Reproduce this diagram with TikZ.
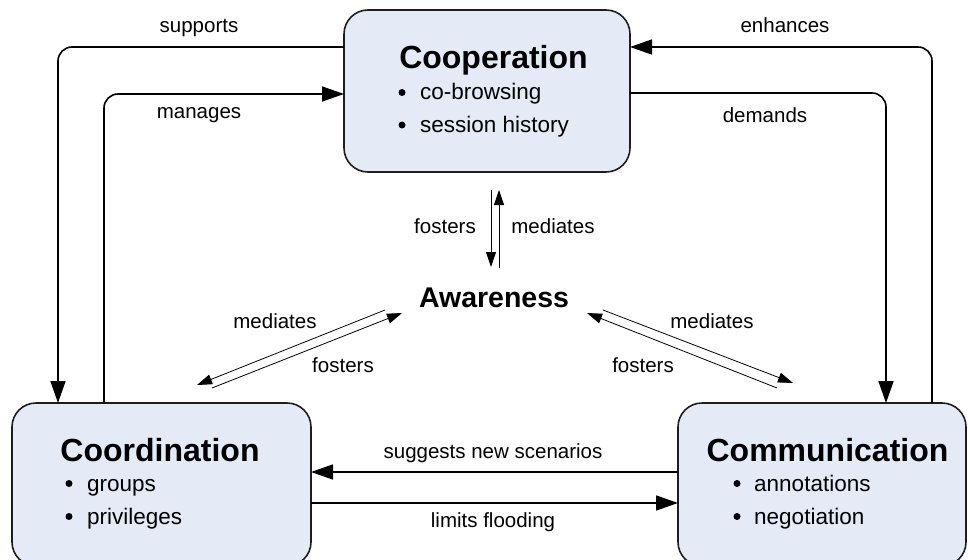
\documentclass[tikz,border=0pt]{standalone}
\usepackage{fontspec}
\setmainfont{Liberation Sans}
\usetikzlibrary{arrows.meta}
\definecolor{boxfill}{RGB}{229,235,246}
\definecolor{boxline}{RGB}{30,30,30}
\begin{document}
\begin{tikzpicture}[x=1pt,y=-1pt,
  area/.style={draw=boxline, line width=1.6pt, fill=boxfill, rounded corners=24pt,
    inner sep=0pt, outer sep=0pt},
  title/.style={font=\fontsize{32}{36}\selectfont\bfseries, anchor=base, inner sep=0pt},
  hub/.style={font=\fontsize{28.5}{32}\selectfont\bfseries, inner sep=0pt},
  item/.style={font=\fontsize{22.5}{26}\selectfont, anchor=base west, inner sep=0pt},
  dot/.style={circle, fill=black, inner sep=0pt, minimum size=7pt},
  lbl/.style={font=\fontsize{20.5}{24}\selectfont, anchor=base, inner sep=0pt},
  conn/.style={line width=1.6pt, rounded corners=14pt, -{Triangle[length=22pt,width=15pt]}},
  thin/.style={line width=0.8pt, -{Triangle[length=15pt,width=10pt]}}]
\useasboundingbox (0,0) rectangle (968,559);
\begin{scope}
\clip (0,0) rectangle (968,559);

% the three activity areas
\node[area, minimum width=286pt, minimum height=162pt] (coop) at (487,91) {};
\node[area, minimum width=299pt, minimum height=163pt] (coord) at (161.5,484.5) {};
\node[area, minimum width=288pt, minimum height=163pt] (comm) at (822,484.5) {};

% Cooperation
\node[title] (coopt) at (493.5,69) {Cooperation};
\node[dot] (coopd1) at (402,92.5) {};
\node[item] (coopi1) at (420,100) {co-browsing};
\node[dot] (coopd2) at (402,125) {};
\node[item] (coopi2) at (420,132.5) {session history};

% Coordination
\node[title] (coordt) at (160,461) {Coordination};
\node[dot] (coordd1) at (69,483.5) {};
\node[item] (coordi1) at (87,491) {groups};
\node[dot] (coordd2) at (69,516.5) {};
\node[item] (coordi2) at (87,524) {privileges};

% Communication
\node[title] (commt) at (827.5,461) {Communication};
\node[dot] (commd1) at (737,483.5) {};
\node[item] (commi1) at (754,491) {annotations};
\node[dot] (commd2) at (737,516.5) {};
\node[item] (commi2) at (754,524) {negotiation};

% Awareness in the middle
\node[hub] (aware) at (494,298) {Awareness};

% connectors between the areas
\draw[conn] (coop.west |- 0,47) -| (coord.north -| 58,0);
\draw[conn] (coord.north -| 104,0) |- (coop.west |- 0,94);
\draw[conn] (comm.north -| 932,0) |- (coop.east |- 0,47);
\draw[conn] (coop.east |- 0,93) -| (comm.north -| 886,0);
\draw[conn] (comm.west |- 0,472) -- (coord.east |- 0,472);
\draw[conn] (coord.east |- 0,503) -- (comm.west |- 0,503);

\node[lbl] (lsup) at (199,33) {supports};
\node[lbl] (lman) at (199,118) {manages};
\node[lbl] (lenh) at (785,33) {enhances};
\node[lbl] (ldem) at (765,122) {demands};
\node[lbl] (lsug) at (493,458) {suggests new scenarios};
\node[lbl] (llim) at (493,527) {limits flooding};

% links to and from Awareness
\coordinate (vf1) at (491,190);
\coordinate (vf2) at (491,267);
\coordinate (vm1) at (499,268);
\coordinate (vm2) at (499,190);
\draw[thin] (vf1) -- (vf2);
\draw[thin] (vm1) -- (vm2);
\node[lbl] (lvf) at (445,233) {fosters};
\node[lbl] (lvm) at (553,233) {mediates};

\coordinate (lm1) at (385,310);
\coordinate (lm2) at (197,385);
\coordinate (lf1) at (212,388);
\coordinate (lf2) at (402,313);
\draw[thin] (lm1) -- (lm2);
\draw[thin] (lf1) -- (lf2);
\node[lbl] (llm) at (275,328) {mediates};
\node[lbl] (llf) at (343,372) {fosters};

\coordinate (rm1) at (603,310);
\coordinate (rm2) at (793,383);
\coordinate (rf1) at (777,388);
\coordinate (rf2) at (587,313);
\draw[thin] (rm1) -- (rm2);
\draw[thin] (rf1) -- (rf2);
\node[lbl] (lrm) at (712,328) {mediates};
\node[lbl] (lrf) at (643,372) {fosters};
\end{scope}
\end{tikzpicture}
\end{document}
